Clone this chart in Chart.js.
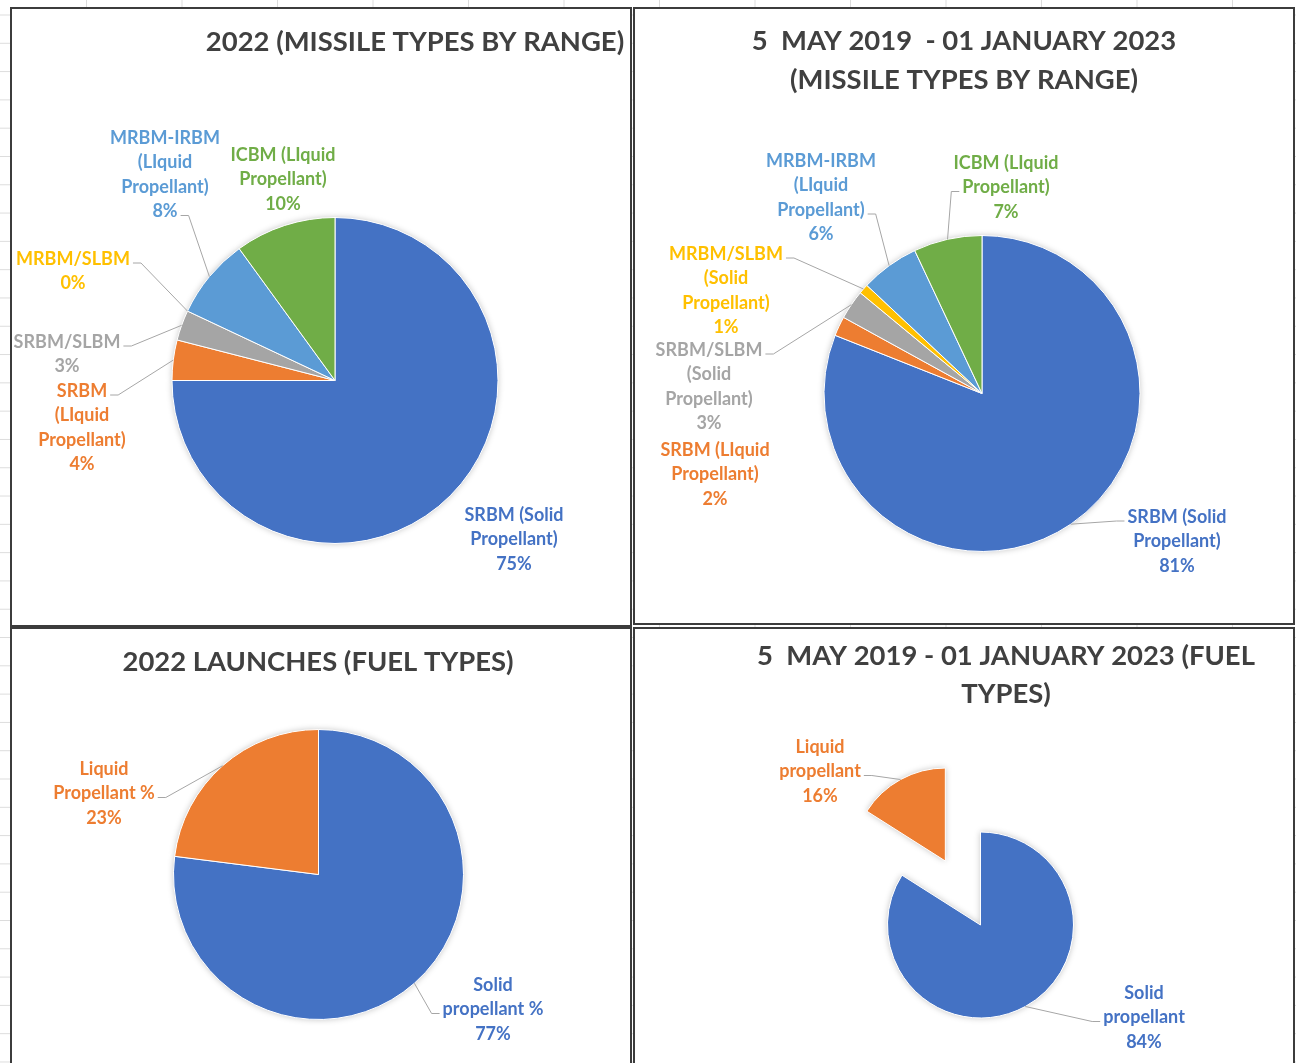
<!DOCTYPE html>
<html>
<head>
<meta charset="utf-8">
<script src="https://cdn.jsdelivr.net/npm/chart.js@4.4.0/dist/chart.umd.min.js"></script>
<style>
  html, body { margin: 0; padding: 0; }
  body {
    width: 1296px; height: 1063px; overflow: hidden; position: relative;
    background-color: #fff;
    /* spreadsheet cell lines behind the charts */
    background-image:
      linear-gradient(to right, #dcdcdc 1px, transparent 1px),
      linear-gradient(to bottom, #dcdcdc 1px, transparent 1px);
    background-size: 95.5px 100%, 100% 28.3px;
    background-position: 86px 0, 0 14.5px;
  }
  .panel {
    position: absolute; box-sizing: border-box;
    border: 2px solid #3c3c3c; background: #fff; overflow: hidden;
  }
  .panel canvas { display: block; }
</style>
</head>
<body>
<div class="panel" style="left:10px;top:7px;width:622px;height:620px"><canvas id="range2022" width="618" height="616"></canvas></div>
<div class="panel" style="left:633px;top:7px;width:662px;height:618px"><canvas id="rangeTotal" width="658" height="614"></canvas></div>
<div class="panel" style="left:10px;top:627px;width:622px;height:440px"><canvas id="fuel2022" width="618" height="436"></canvas></div>
<div class="panel" style="left:633px;top:627px;width:662px;height:440px"><canvas id="fuelTotal" width="658" height="436"></canvas></div>
<script>
// Office palette
const blue = '#4472C4', orange = '#ED7D31', grey = '#A5A5A5', gold = '#FFC000', lightBlue = '#5B9BD5', green = '#70AD47';

// 2022, by missile range (%)
const rangeLabels2022 = [['SRBM (Solid', 'Propellant)'], ['SRBM', '(LIquid', 'Propellant)'], ['SRBM/SLBM'], ['MRBM/SLBM'], ['MRBM-IRBM', '(LIquid', 'Propellant)'], ['ICBM (LIquid', 'Propellant)']];
const rangeValues2022 = [75, 4, 3, 0, 8, 10];

// 5 May 2019 - 1 Jan 2023, by missile range (%)
const rangeLabelsTotal = [['SRBM (Solid', 'Propellant)'], ['SRBM (LIquid', 'Propellant)'], ['SRBM/SLBM', '(Solid', 'Propellant)'], ['MRBM/SLBM', '(Solid', 'Propellant)'], ['MRBM-IRBM', '(LIquid', 'Propellant)'], ['ICBM (LIquid', 'Propellant)']];
const rangeValuesTotal = [81, 2, 3, 1, 6, 7];

// fuel types (%)
const fuelLabels2022 = [['Solid', 'propellant %'], ['Liquid', 'Propellant %']];
const fuelValues2022 = [77, 23];
const fuelLabelsTotal = [['Solid', 'propellant'], ['Liquid', 'propellant']];
const fuelValuesTotal = [84, 16];

const rangeColors = [blue, orange, grey, gold, lightBlue, green];
const fuelColors = [blue, orange];

const titleRange2022 = ['2022 (MISSILE TYPES BY RANGE)'];
const titleRangeTotal = ['5  MAY 2019  - 01 JANUARY 2023', '(MISSILE TYPES BY RANGE)'];
const titleFuel2022 = ['2022 LAUNCHES (FUEL TYPES)'];
const titleFuelTotal = ['5  MAY 2019 - 01 JANUARY 2023 (FUEL', 'TYPES)'];

const FONT = 'Lato, "Open Sans", sans-serif';
const TITLE_SIZE = 26, TITLE_STRETCH = 1.055, TITLE_COLOR = '#404040';
const LABEL_SIZE = 18, LABEL_STRETCH = 1.0, LABEL_LH = 24.5;
const LEADER_COLOR = '#a6a6a6';

function drawText(ctx, t, x, y, stretch) {
  ctx.save();
  ctx.translate(x, y);
  ctx.scale(stretch, 1);
  ctx.fillText(t, 0, 0);
  ctx.restore();
}

// title, callout labels with leader lines, exploded slices, soft shadow
function callouts(cfg) {
  return {
    id: 'callouts',
    afterDatasetUpdate(chart) {
      const arcs = chart.getDatasetMeta(0).data;
      (cfg.explode || []).forEach((dist, i) => {
        if (!dist) return;
        const a = arcs[i];
        const mid = (a.startAngle + a.endAngle) / 2;
        a.x += Math.cos(mid) * dist;
        a.y += Math.sin(mid) * dist;
      });
    },
    beforeDatasetsDraw(chart) {
      const ctx = chart.ctx;
      ctx.save();
      ctx.shadowColor = 'rgba(0,0,0,0.25)';
      ctx.shadowBlur = 6;
      ctx.fillStyle = '#fff';
      chart.getDatasetMeta(0).data.forEach(a => {
        if (!a.circumference) return;
        ctx.beginPath();
        ctx.moveTo(a.x, a.y);
        ctx.arc(a.x, a.y, a.outerRadius, a.startAngle, a.endAngle);
        ctx.closePath();
        ctx.fill();
      });
      ctx.restore();
    },
    afterDraw(chart) {
      const ctx = chart.ctx;
      const ds = chart.data.datasets[0];
      const arcs = chart.getDatasetMeta(0).data;
      ctx.save();
      ctx.textAlign = 'center';
      ctx.textBaseline = 'middle';

      ctx.font = `bold ${TITLE_SIZE}px ${FONT}`;
      ctx.fillStyle = TITLE_COLOR;
      cfg.title.forEach((t, k) => drawText(ctx, t, cfg.titlePos.x, cfg.titlePos.y + k * cfg.titlePos.lh, TITLE_STRETCH));

      ctx.font = `bold ${LABEL_SIZE}px ${FONT}`;
      cfg.labels.forEach((pos, i) => {
        const lines = [].concat(chart.data.labels[i], ds.data[i] + '%');
        ctx.fillStyle = ds.backgroundColor[i];
        lines.forEach((t, k) => drawText(ctx, t, pos.x, pos.y + k * LABEL_LH, LABEL_STRETCH));
        if (pos.leader === undefined) return;
        const a = arcs[i];
        const mid = (a.startAngle + a.endAngle) / 2;
        const px = a.x + Math.cos(mid) * a.outerRadius;
        const py = a.y + Math.sin(mid) * a.outerRadius;
        const half = ctx.measureText(lines[pos.leader]).width * LABEL_STRETCH / 2;
        const dir = px > pos.x ? 1 : -1;
        const sx = pos.x + dir * (half + 3);
        const sy = pos.y + pos.leader * LABEL_LH + 4;
        let kx = sx + dir * 8;
        if ((px - kx) * dir < 0) kx = sx;
        ctx.strokeStyle = LEADER_COLOR;
        ctx.lineWidth = 1;
        ctx.beginPath();
        ctx.moveTo(sx, sy);
        ctx.lineTo(kx, sy);
        ctx.lineTo(px, py);
        ctx.stroke();
      });
      ctx.restore();
    }
  };
}

function pieChart(id, labels, values, colors, title, layout) {
  const bw = 1;
  const half = layout.r + bw / 2;
  const canvas = document.getElementById(id);
  return new Chart(canvas, {
    type: 'pie',
    data: {
      labels: labels,
      datasets: [{ data: values, backgroundColor: colors, borderColor: '#fff', borderWidth: bw }]
    },
    options: {
      responsive: false,
      animation: false,
      events: [],
      layout: {
        padding: {
          left: layout.cx - half,
          right: canvas.width - layout.cx - half,
          top: layout.cy - half,
          bottom: canvas.height - layout.cy - half
        }
      },
      plugins: { legend: { display: false }, tooltip: { enabled: false }, title: { display: false } }
    },
    plugins: [callouts({ title: title, titlePos: layout.title, labels: layout.labels, explode: layout.explode })]
  });
}

pieChart('range2022', rangeLabels2022, rangeValues2022, rangeColors, titleRange2022, {
  cx: 323, cy: 371.5, r: 163,
  title: { x: 403, y: 33.5, lh: 38.5 },
  labels: [
    { x: 502, y: 506 },
    { x: 70, y: 382, leader: 0 },
    { x: 55, y: 333, leader: 0 },
    { x: 61, y: 250, leader: 0 },
    { x: 153, y: 129, leader: 3 },
    { x: 271, y: 146 }
  ]
});

pieChart('rangeTotal', rangeLabelsTotal, rangeValuesTotal, rangeColors, titleRangeTotal, {
  cx: 347, cy: 384.5, r: 158,
  title: { x: 329, y: 33, lh: 39 },
  labels: [
    { x: 542, y: 508, leader: 0 },
    { x: 80, y: 441 },
    { x: 74, y: 341, leader: 0 },
    { x: 91, y: 245, leader: 0 },
    { x: 186, y: 152, leader: 2 },
    { x: 371, y: 154, leader: 1 }
  ]
});

pieChart('fuel2022', fuelLabels2022, fuelValues2022, fuelColors, titleFuel2022, {
  cx: 306.5, cy: 245.5, r: 145,
  title: { x: 306, y: 34, lh: 39 },
  labels: [
    { x: 481, y: 356, leader: 1 },
    { x: 92, y: 140, leader: 1 }
  ]
});

pieChart('fuelTotal', fuelLabelsTotal, fuelValuesTotal, fuelColors, titleFuelTotal, {
  cx: 345.5, cy: 296, r: 93,
  explode: [0, 73],
  title: { x: 371, y: 28, lh: 38 },
  labels: [
    { x: 509, y: 364, leader: 1 },
    { x: 185, y: 118, leader: 1 }
  ]
});
</script>
</body>
</html>
